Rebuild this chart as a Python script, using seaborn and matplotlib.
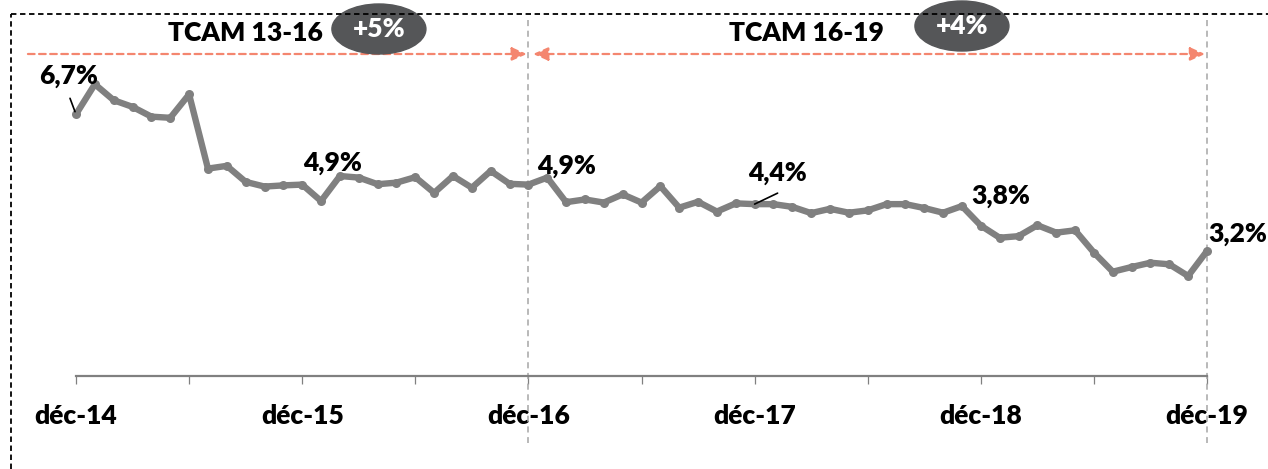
import pandas as pd
import matplotlib.pyplot as plt
import seaborn as sns
from matplotlib.patches import Ellipse
from matplotlib.lines import Line2D

# monthly rate (%), déc-14 -> déc-19
rate = [6.70, 7.47, 7.06, 6.89, 6.64, 6.61, 7.21, 5.31, 5.38, 4.97,
        4.85, 4.88, 4.90, 4.48, 5.12, 5.08, 4.91, 4.95, 5.09, 4.69,
        5.12, 4.82, 5.25, 4.92, 4.90, 5.08, 4.45, 4.52, 4.44, 4.65,
        4.44, 4.86, 4.31, 4.46, 4.21, 4.42, 4.40, 4.40, 4.33, 4.17,
        4.28, 4.18, 4.24, 4.40, 4.40, 4.30, 4.18, 4.35, 3.85, 3.54,
        3.58, 3.86, 3.67, 3.73, 3.16, 2.67, 2.79, 2.90, 2.86, 2.56,
        3.20]
year_labels = ["déc-14", "déc-15", "déc-16", "déc-17", "déc-18", "déc-19"]

# labelled points
label_idx = [0, 12, 24, 36, 48, 60]
label_text = ["6,7%", "4,9%", "4,9%", "4,4%", "3,8%", "3,2%"]
label_offset = [(-7, 38), (30, 22), (38, 19), (23, 31), (20, 30), (1, 17)]

# growth periods
periods = ["TCAM 13-16", "TCAM 16-19"]
growth = ["+5%", "+4%"]

df = pd.DataFrame({"month": range(len(rate)), "rate": rate})

sns.set_style("white")
plt.rcParams["font.family"] = ["Lato", "DejaVu Sans"]
W = "heavy"

fig = plt.figure(figsize=(12.68, 4.69), dpi=100)
ax = fig.add_axes([0, 93 / 469, 1, 376 / 469])

sns.lineplot(data=df, x="month", y="rate", color="#808080", lw=4.6,
             marker="o", markersize=6.5, markeredgewidth=0, ax=ax,
             solid_joinstyle="round", solid_capstyle="round")

px_x = 18.85  # pixels per month
px_y = 39.06  # pixels per point of rate
ax.set_xlim(-76 / px_x, 60 + 61 / px_x)
ax.set_ylim(0, 376 / px_y)

for s in ["top", "left", "right"]:
    ax.spines[s].set_visible(False)
ax.spines["bottom"].set_color("#808080")
ax.spines["bottom"].set_linewidth(1.6)
ax.spines["bottom"].set_bounds(0, 60)
ax.set_yticks([])
ax.set_xticks(range(0, 61, 12))
ax.set_xticklabels(year_labels, fontsize=19, fontweight=W, color="black")
ax.set_xticks(range(6, 61, 12), minor=True)
ax.tick_params(axis="x", which="both", direction="out", length=6,
               width=0.9, color="#808080", bottom=True)
ax.tick_params(axis="x", which="major", pad=14)
ax.set_xlabel("")
ax.set_ylabel("")

# dashed period separators
for m in [24, 60]:
    ax.plot([m, m], [(376 - 20) / px_y, (376 - 443) / px_y], color="#a6a6a6",
            lw=1.1, ls=(0, (4, 3)), clip_on=False, zorder=1)

# value labels
for i, t, (dx, dy) in zip(label_idx, label_text, label_offset):
    ha = "left" if i == 60 else "center"
    ax.annotate(t, xy=(i, rate[i]), xytext=(dx, dy), textcoords="offset pixels",
                ha=ha, va="center", fontsize=19, fontweight=W,
                color="black", zorder=5)
# leader lines
ax.annotate("", xy=(0, rate[0]), xytext=(-6, 16), textcoords="offset pixels",
            arrowprops=dict(arrowstyle="-", color="black", lw=1.2,
                            shrinkA=0, shrinkB=2))
ax.annotate("", xy=(36, rate[36]), xytext=(23, 11), textcoords="offset pixels",
            arrowprops=dict(arrowstyle="-", color="black", lw=1.2,
                            shrinkA=0, shrinkB=0))

# period arrows
orange = "#f4866f"
arrow_y = (376 - 54) / px_y
ax.annotate("", xy=(24 - 0.08, arrow_y), xytext=(-2.55, arrow_y),
            arrowprops=dict(arrowstyle="-|>,head_length=0.9,head_width=0.4",
                            ls=(0, (3, 2)), lw=1.6, color=orange,
                            shrinkA=0, shrinkB=0), annotation_clip=False)
ax.annotate("", xy=(60 - 0.1, arrow_y), xytext=(24 + 0.25, arrow_y),
            arrowprops=dict(arrowstyle="<|-|>,head_length=0.9,head_width=0.4",
                            ls=(0, (3, 2)), lw=1.6, color=orange,
                            shrinkA=0, shrinkB=0), annotation_clip=False)

# period titles and growth bubbles
title_x = [8.97, 38.73]
bubble_x = [16.07, 47.0]
bubble_y = [(376 - 29) / px_y, (376 - 26) / px_y]
for name, g, tx, bx, by in zip(periods, growth, title_x, bubble_x, bubble_y):
    ax.text(tx, (376 - 33) / px_y, name, ha="center", va="center",
            fontsize=19, fontweight=W, color="black")
    ax.add_patch(Ellipse((bx, by), 94 / px_x, 50 / px_y, color="#555658",
                         zorder=6, clip_on=False))
    ax.text(bx, by, g, ha="center", va="center", fontsize=19,
            fontweight=W, color="white", zorder=7)

# dashed frame
fig.add_artist(Line2D([11 / 1268, 1], [1 - 14 / 469, 1 - 14 / 469],
                      color="black", lw=1.3, ls=(0, (3, 2)), zorder=4))
fig.add_artist(Line2D([11 / 1268, 11 / 1268], [0, 1 - 14 / 469],
                      color="black", lw=1.3, ls=(0, (3, 2)), zorder=4))

fig.savefig("out.png", dpi=100)
